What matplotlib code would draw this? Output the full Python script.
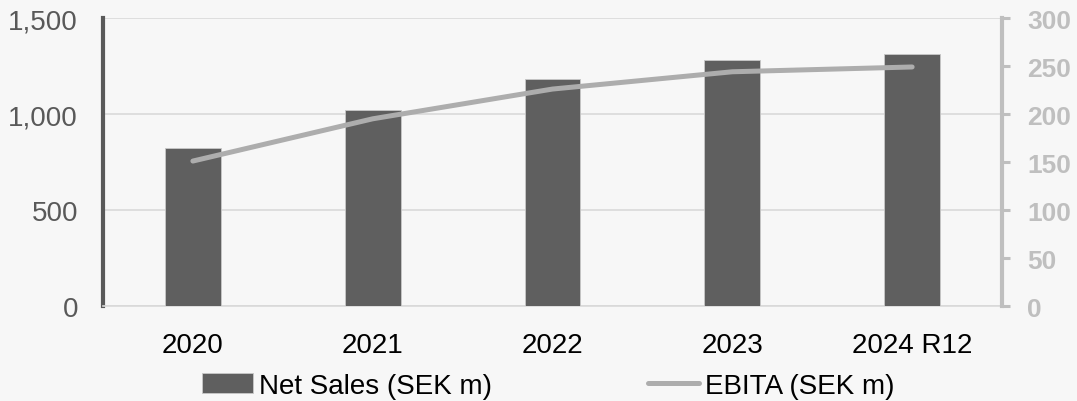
import matplotlib
matplotlib.use('Agg')

import matplotlib.pyplot as plt
import numpy as np

# Data
years = ['2020', '2021', '2022', '2023', '2024 R12']
net_sales = [825, 1020, 1180, 1280, 1310]   # SEK m, left axis
ebita = [151, 195, 226, 244, 249]           # SEK m, right axis

bg = '#F7F7F7'
plt.rcParams['font.family'] = ['Liberation Sans', 'DejaVu Sans']

fig = plt.figure(figsize=(10.77, 4.02), dpi=100, facecolor=bg)
ax = fig.add_axes([0.0956, 0.2363, 0.8348, 0.7164])
ax.set_facecolor(bg)

x = np.arange(len(years))
ax.bar(x, net_sales, width=0.31, color='#5F5F5F', edgecolor='#C8C8C8',
       linewidth=0.6, label='Net Sales (SEK m)', zorder=3)
ax.set_xlim(-0.5, len(years) - 0.5)
ax.set_ylim(0, 1500)
ax.set_yticks([0, 500, 1000, 1500])
ax.set_yticklabels(['0', '500', '1,000', '1,500'])
ax.grid(axis='y', color='#D9D9D9', linewidth=1.2, zorder=0)
ax.set_xticks(x)
ax.set_xticklabels(years)
ax.tick_params(axis='y', length=0, pad=18, labelsize=20, labelcolor='#595959')
ax.tick_params(axis='x', length=0, pad=19, labelsize=20, labelcolor='black')

for s in ['top', 'right']:
    ax.spines[s].set_visible(False)
ax.spines['left'].set_color('#595959')
ax.spines['left'].set_linewidth(3)
ax.spines['bottom'].set_color('#D9D9D9')
ax.spines['bottom'].set_linewidth(1.2)

ax2 = ax.twinx()
ax2.plot(x, ebita, color='#ADADAD', linewidth=3.6, solid_capstyle='round',
         label='EBITA (SEK m)', zorder=4)
ax2.set_ylim(0, 300)
rt = np.arange(0, 301, 50)
ax2.set_yticks(rt)
ax2.set_yticklabels([str(v) for v in rt])
ax2.tick_params(axis='y', length=6, width=2.2, color='#BFBFBF', pad=12,
                labelsize=19, labelcolor='#BFBFBF')
plt.setp(ax2.get_yticklabels(), fontweight='bold')
for s in ['top', 'left', 'bottom']:
    ax2.spines[s].set_visible(False)
ax2.spines['right'].set_color('#BFBFBF')
ax2.spines['right'].set_linewidth(3)

h1, l1 = ax.get_legend_handles_labels()
h2, l2 = ax2.get_legend_handles_labels()
fig.legend(h1 + h2, l1 + l2, loc='center', bbox_to_anchor=(0.509, 0.038),
           ncol=2, frameon=False, fontsize=20, handlelength=1.85,
           handletextpad=0.22, columnspacing=5.6)

fig.savefig('out.png', dpi=100, facecolor=bg)
